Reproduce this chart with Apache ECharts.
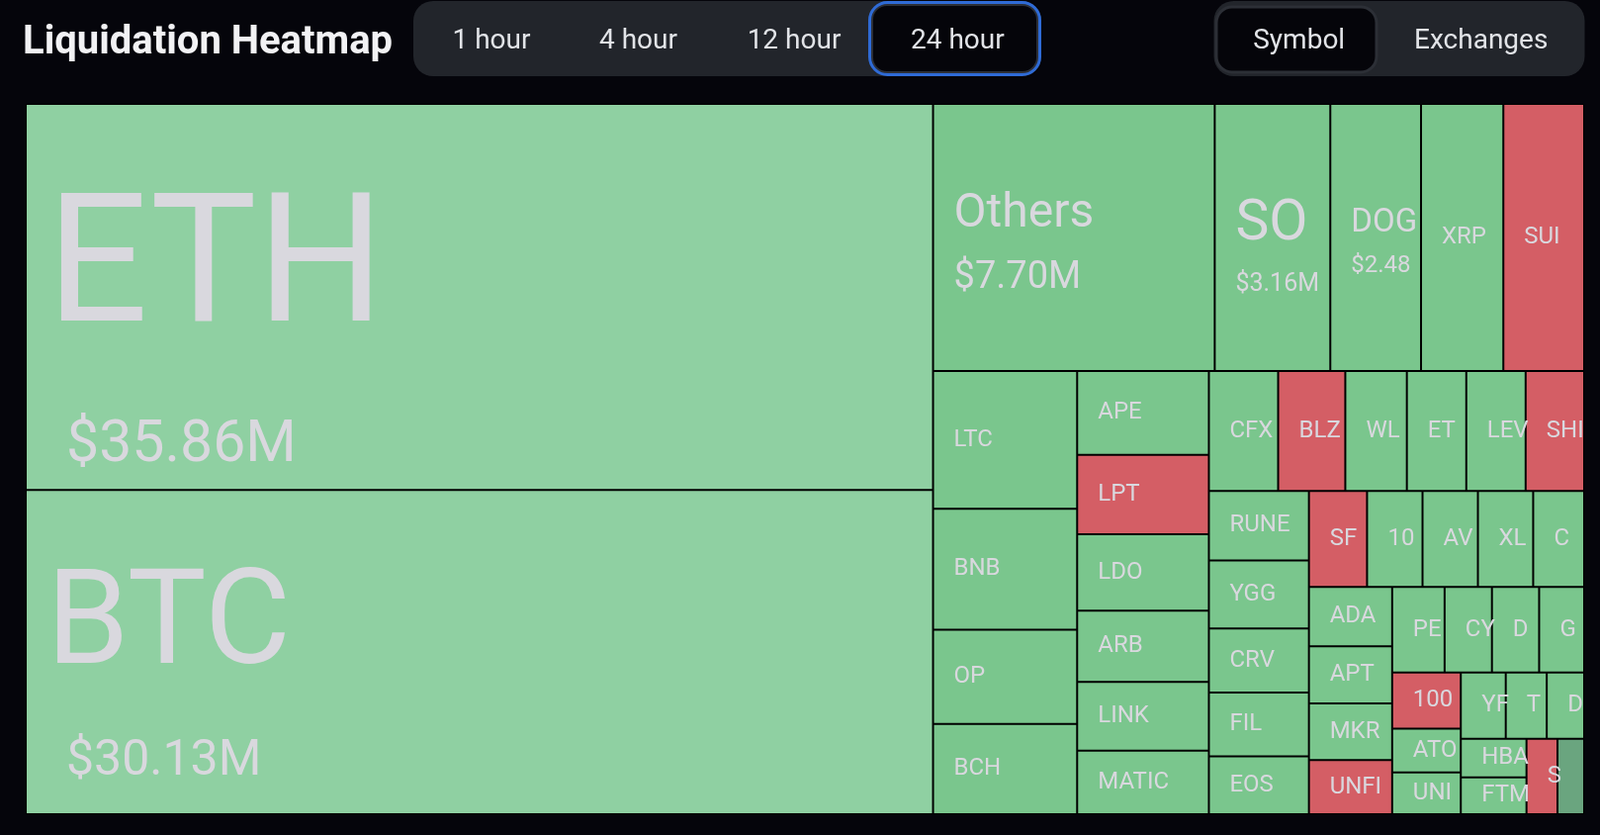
<!DOCTYPE html>
<html>
<head>
<meta charset="utf-8">
<title>Liquidation Heatmap</title>
<script src="https://cdn.jsdelivr.net/npm/echarts/dist/echarts.min.js"></script>
<style>
  html, body { margin: 0; padding: 0; background: #05050b; }
  #chart { width: 1618px; height: 844px; }
</style>
</head>
<body>
<div id="chart"></div>
<script>
// ---- data (liquidations, $M, 24 hour) ----
const symbols = ['ETH','BTC','Others','SOL','DOGE','XRP','SUI',
  'LTC','BNB','OP','BCH',
  'APE','LPT','LDO','ARB','LINK','MATIC',
  'CFX','BLZ','WLD','ETC','LEV','SHIB',
  'RUNE','YGG','CRV','FIL','EOS',
  'SFP','1000SATS','AVAX','XLM','COMP',
  'ADA','APT','MKR','UNFI',
  'PEPE','CYBER','DOT','GAS',
  '1000BONK','ATOM','UNI',
  'YFI','TON','DYDX',
  'HBAR','FTM',
  'STX','IMX'];
const liqValues = [35.86,30.13,7.70,3.16,2.48,2.25,2.21,
  2.034,1.785,1.390,1.332,
  1.133,1.070,1.030,0.963,0.927,0.856,
  0.852,0.826,0.757,0.731,0.730,0.720,
  0.711,0.698,0.656,0.654,0.592,
  0.571,0.545,0.544,0.543,0.501,
  0.505,0.488,0.482,0.462,
  0.460,0.415,0.414,0.395,
  0.393,0.309,0.293,
  0.305,0.278,0.254,
  0.259,0.248,
  0.239,0.206];
const tones = ['up2','up2','up','up','up','up','down',
  'up','up','up','up',
  'up','down','up','up','up','up',
  'up','down','up','up','up','down',
  'up','up','up','up','up',
  'down','up','up','up','up',
  'up','up','up','down',
  'up','up','up','up',
  'down','up','up',
  'up','up','up',
  'up','up',
  'down','flat'];
const timeTabs = ['1 hour','4 hour','12 hour','24 hour'];
const viewTabs = ['Symbol','Exchanges'];

// ---- styles ----
const toneColor = { up2: '#8fd0a2', up: '#7ac68d', down: '#d45e65', flat: '#6aa57f' };
const labelColor = '#d9d8de';
const FONT = 'Roboto';
// two-line labels for the largest cells:
// [nameSize, valueSize, spacerHeight, nameLineHeight, valueLineHeight, valueIndent]
const bigLabels = {
  ETH:    [181, 59, 29, 287, 59, 20],
  BTC:    [134, 50, 32, 217, 50, 20],
  Others: [48, 38, 66, 90, 38, 0],
  SOL:    [57, 25, 75, 94, 25, 0],
  DOGE:   [33, 24, 88, 63, 24, 0]
};

const data = symbols.map((s, i) => {
  const item = { name: s, value: liqValues[i], itemStyle: { color: toneColor[tones[i]] } };
  const b = bigLabels[s];
  if (b) {
    item.label = {
      formatter: '{s| }\n{n|' + s + '}\n{v|$' + liqValues[i].toFixed(2) + 'M}',
      rich: {
        s: { fontSize: 4, lineHeight: b[2] },
        n: { fontSize: b[0], lineHeight: b[3], color: labelColor, fontFamily: FONT },
        v: { fontSize: b[1], lineHeight: b[4], color: labelColor, fontFamily: FONT, padding: [0, 0, 0, b[5]] }
      }
    };
  }
  return item;
});

// ---- header graphics ----
const tabCentersTime = [497, 645.5, 803, 968.4];
const tabCentersView = [1313.7, 1497.7];
const graphics = [
  { type: 'text', x: 23, y: 44, style: { text: 'Liquidation Heatmap', font: 'bold 40px Roboto', fill: '#f2f2f4', textVerticalAlign: 'middle' } },
  { type: 'rect', shape: { x: 418, y: 1, width: 635, height: 76, r: 20 }, style: { fill: '#22252b' } },
  { type: 'rect', shape: { x: 882, y: 5, width: 167, height: 68, r: 15 }, style: { fill: '#05050a', stroke: '#2c2f36', lineWidth: 2 } },
  { type: 'rect', shape: { x: 879.5, y: 2.5, width: 172, height: 73, r: 18 }, style: { fill: 'none', stroke: '#2f6bd6', lineWidth: 3 } },
  { type: 'rect', shape: { x: 1227.5, y: 1, width: 375, height: 76, r: 20 }, style: { fill: '#22252b' } },
  { type: 'rect', shape: { x: 1230, y: 7, width: 162, height: 66, r: 16 }, style: { fill: '#05050a', stroke: '#2c2f36', lineWidth: 3 } }
];
timeTabs.forEach((t, i) => graphics.push({
  type: 'text', x: tabCentersTime[i], y: 42,
  style: { text: t, font: '28px Roboto', fill: '#e2e4e8', textAlign: 'center', textVerticalAlign: 'middle' }
}));
viewTabs.forEach((t, i) => graphics.push({
  type: 'text', x: tabCentersView[i], y: 42,
  style: { text: t, font: '28px Roboto', fill: '#e2e4e8', textAlign: 'center', textVerticalAlign: 'middle' }
}));

const chart = echarts.init(document.getElementById('chart'), null, { renderer: 'canvas' });
chart.setOption({
  backgroundColor: '#05050b',
  animation: false,
  graphic: graphics,
  series: [{
    type: 'treemap',
    left: 26, top: 105, width: 1576, height: 718,
    roam: false,
    nodeClick: false,
    sort: false,
    breadcrumb: { show: false },
    itemStyle: { borderWidth: 1, borderColor: '#000', gapWidth: 0 },
    levels: [ { itemStyle: { borderWidth: 0, gapWidth: 0 } } ],
    label: {
      show: true, position: 'insideLeft', distance: 0, padding: [0, -6, 0, 20],
      color: labelColor, fontFamily: FONT, fontSize: 24,
      overflow: 'truncate', ellipsis: '\u200B'
    },
    upperLabel: { show: false },
    emphasis: { disabled: true },
    data: data
  }]
});
</script>
</body>
</html>
